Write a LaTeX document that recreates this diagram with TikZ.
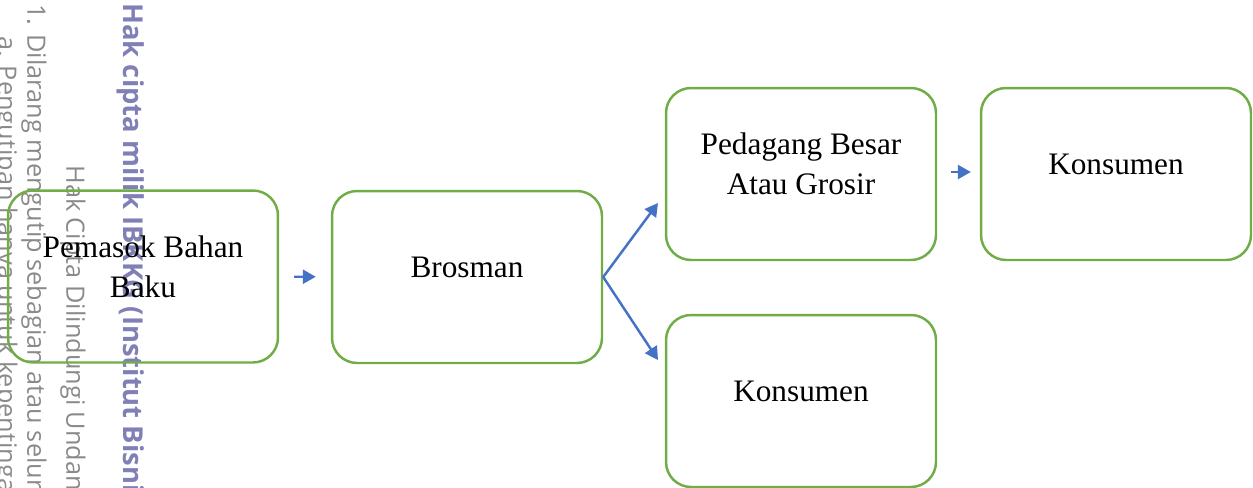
\documentclass[tikz,border=0pt]{standalone}
\usepackage{fontspec}
\setmainfont{Liberation Serif}
\newfontfamily\markfont{Open Sans}
\usetikzlibrary{arrows.meta,positioning,calc}
\definecolor{boxgreen}{RGB}{112,173,71}
\definecolor{flowblue}{RGB}{68,114,196}
\definecolor{markblue}{RGB}{128,128,182}
\definecolor{markgray}{RGB}{138,138,138}
\tikzset{%
    % style for a stage of the chain (only the frame)
    stage/.style={%
        draw=boxgreen,
        line width=1.4pt,
        rounded corners=0.5cm,
        minimum width=5.4cm,
        minimum height=3.44cm,
        inner sep=0pt,
    },
    % style for the text inside a stage
    stage text/.style={%
        align=center,
        inner sep=0pt,
        font=\fontsize{17.8}{22.7}\selectfont,
    },
    % style for the arrows between stages
    flow/.style={%
        flowblue,
        line width=1.4pt,
        -{Triangle[length=0.26cm,width=0.28cm]},
    },
    % style for the watermark lines at the left border
    watermark/.style={%
        rotate=-90,
        anchor=west,
        inner sep=0pt,
        markgray,
        font=\markfont\fontsize{14.4}{16}\selectfont,
    },
    % bold variant of the watermark
    bold watermark/.style={%
        watermark,
        markblue,
        font=\markfont\bfseries\fontsize{15.6}{17}\selectfont,
    },
}
% a stage: frame plus its text, slightly above the middle
\newcommand{\stage}[3]{%
    \node (#1) [stage] at (#2) {};%
    \node (#1 text) [stage text] at ([yshift=0.2cm]#1.center) {#3};%
}

\begin{document}
\begin{tikzpicture}[x=0.02cm,y=-0.02cm]
    % the picture is measured in pixels of the scan
    \useasboundingbox (0,0) rectangle (1253,487);
    \clip (0,0) rectangle (1253,487);
    % watermark of the scanned page
    \node (mark1) [bold watermark] at (131,3)
        {Hak cipta milik IBKKG (Institut Bisnis};
    \node (mark2) [watermark] at (73,165) {Hak Cipta Dilindungi Undang};
    \node (mark3) [watermark] at (34,4)
        {1. Dilarang mengutip sebagian atau seluruh};
    \node (mark4) [watermark] at (5,36)
        {a. Pengutipan hanya untuk kepentingan};
    % stages
    \stage{pemasok}{143,276.5}{Pemasok Bahan\\Baku}
    \stage{brosman}{467,277}{Brosman}
    \stage{grosir}{801,174}{Pedagang Besar\\Atau Grosir}
    \stage{konsumen1}{1116,174}{Konsumen}
    \stage{konsumen2}{801,401}{Konsumen}
    % free ends of the branching arrows
    \coordinate (up end) at (658,203);
    \coordinate (down end) at (658,360);
    % arrows
    \draw [flow, shorten <=0.3cm, shorten >=0.3cm] (pemasok) -- (brosman);
    \draw [flow, shorten <=0.28cm, shorten >=0.18cm]
        ([yshift=0.04cm]grosir.east) -- ([yshift=0.04cm]konsumen1.west);
    \draw [flow] (brosman.east) -- (up end);
    \draw [flow] (brosman.east) -- (down end);
\end{tikzpicture}
\end{document}
